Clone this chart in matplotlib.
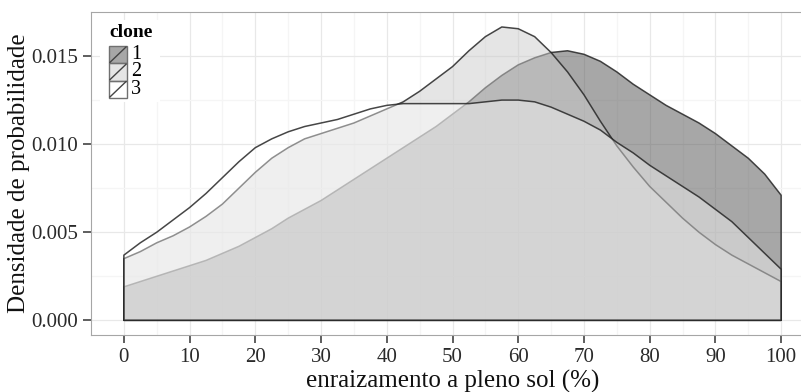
import numpy as np
import matplotlib
matplotlib.use('Agg')
import matplotlib.pyplot as plt
from matplotlib.patches import Rectangle
from matplotlib.lines import Line2D

plt.rcParams['font.family'] = ['Liberation Serif', 'DejaVu Serif']

# enraizamento (%) onde a densidade foi lida, passo de 2.5
enraizamento = np.linspace(0, 100, 41)

dens_clone1 = [0.0019, 0.0022, 0.0025, 0.0028, 0.0031, 0.0034, 0.0038, 0.0042, 0.0047, 0.0052,
               0.0058, 0.0063, 0.0068, 0.0074, 0.0080, 0.0086, 0.0092, 0.0098, 0.0104, 0.0110,
               0.0117, 0.0124, 0.0132, 0.0139, 0.0145, 0.0149, 0.0152, 0.0153, 0.0151, 0.0147,
               0.0141, 0.0134, 0.0128, 0.0122, 0.0117, 0.0112, 0.0106, 0.0099, 0.0092, 0.0083,
               0.0071]
dens_clone2 = [0.0035, 0.0039, 0.0044, 0.0048, 0.0053, 0.0059, 0.0066, 0.0075, 0.0084, 0.0092,
               0.0098, 0.0103, 0.0106, 0.0109, 0.0112, 0.0116, 0.0120, 0.0124, 0.0130, 0.0137,
               0.0144, 0.0153, 0.0161, 0.01665, 0.01655, 0.0161, 0.0152, 0.0141, 0.0128, 0.0113,
               0.0099, 0.0087, 0.0076, 0.0067, 0.0058, 0.0050, 0.0043, 0.0037, 0.0032, 0.0027,
               0.0022]
dens_clone3 = [0.0037, 0.0044, 0.0050, 0.0057, 0.0064, 0.0072, 0.0081, 0.0090, 0.0098, 0.0103,
               0.0107, 0.0110, 0.0112, 0.0114, 0.0117, 0.0120, 0.0122, 0.0123, 0.0123, 0.0123,
               0.0123, 0.0123, 0.0124, 0.0125, 0.0125, 0.0124, 0.0121, 0.0117, 0.0113, 0.0108,
               0.0101, 0.0095, 0.0088, 0.0082, 0.0076, 0.0070, 0.0063, 0.0056, 0.0047, 0.0038,
               0.0029]

clones = ['1', '2', '3']
densidades = [dens_clone1, dens_clone2, dens_clone3]
preenchimento = [(0.318, 0.318, 0.318, 0.5), (0.8, 0.8, 0.8, 0.5), (1.0, 1.0, 1.0, 0.4)]
contorno = (0.15, 0.15, 0.15, 0.85)

W, H = 801, 392
fig = plt.figure(figsize=(W / 100, H / 100), dpi=100)
ax = fig.add_axes([91 / W, (H - 335) / H, 723 / W, 323 / H])

# densidades: poligono fechado em y=0, desenhadas na ordem dos clones
for dens, cor in zip(densidades, preenchimento):
    xs = np.concatenate([[enraizamento[0]], enraizamento, [enraizamento[-1]]])
    ys = np.concatenate([[0], dens, [0]])
    ax.fill(xs, ys, facecolor=cor, edgecolor=contorno, linewidth=1.1, zorder=2,
            joinstyle='round')

ax.set_xlim(-5, 105)
ax.set_ylim(-0.000833, 0.0175)
ax.set_xticks(np.arange(0, 101, 10))
ax.set_xticks(np.arange(5, 100, 10), minor=True)
ax.set_yticks([0, 0.005, 0.010, 0.015])
ax.set_yticks([0.0025, 0.0075, 0.0125], minor=True)
ax.set_yticklabels(['0.000', '0.005', '0.010', '0.015'])

ax.set_axisbelow(True)
ax.grid(which='major', color='#e8e8e8', linewidth=0.9)
ax.grid(which='minor', color='#f5f5f5', linewidth=0.9)
for s in ax.spines.values():
    s.set_color('#a6a6a6')
    s.set_linewidth(0.8)

ax.tick_params(which='major', direction='out', length=5.5, width=1.1, color='#333333',
               labelsize=15, labelcolor='#2a2a2a')
ax.tick_params(axis='y', which='major', pad=4)
ax.tick_params(axis='x', which='major', pad=4)
ax.tick_params(which='minor', length=0)

ax.set_xlabel('enraizamento a pleno sol (%)', fontsize=18, labelpad=2, color='#111111')
ax.set_ylabel('Densidade de probabilidade', fontsize=18, labelpad=1, color='#111111')


# legenda desenhada a mao para as caixas ficarem coladas
def fx(px):
    return px / W


def fy(py):
    return 1 - py / H


fig.add_artist(Rectangle((fx(100), fy(102)), fx(160) - fx(100), fy(20) - fy(102),
                         transform=fig.transFigure, facecolor='white', edgecolor='none', zorder=5))
fig.text(fx(109), fy(37), 'clone', fontsize=14, fontweight='bold', ha='left', va='baseline',
         zorder=6)
key_h = 17.3
for i, (nome, cor) in enumerate(zip(clones, preenchimento)):
    top = 46 + i * key_h
    fig.add_artist(Rectangle((fx(109), fy(top + key_h)), fx(127) - fx(109), key_h / H,
                             transform=fig.transFigure, facecolor=cor, edgecolor='#707070',
                             linewidth=1.0, zorder=6))
    fig.add_artist(Line2D([fx(110), fx(126)], [fy(top + key_h - 1), fy(top + 1)],
                          transform=fig.transFigure, color='#444444', linewidth=1.0, zorder=7))
    fig.text(fx(131), fy(top + key_h / 2), nome, fontsize=14.5, ha='left', va='center', zorder=6)

fig.savefig('out.png', dpi=100)
